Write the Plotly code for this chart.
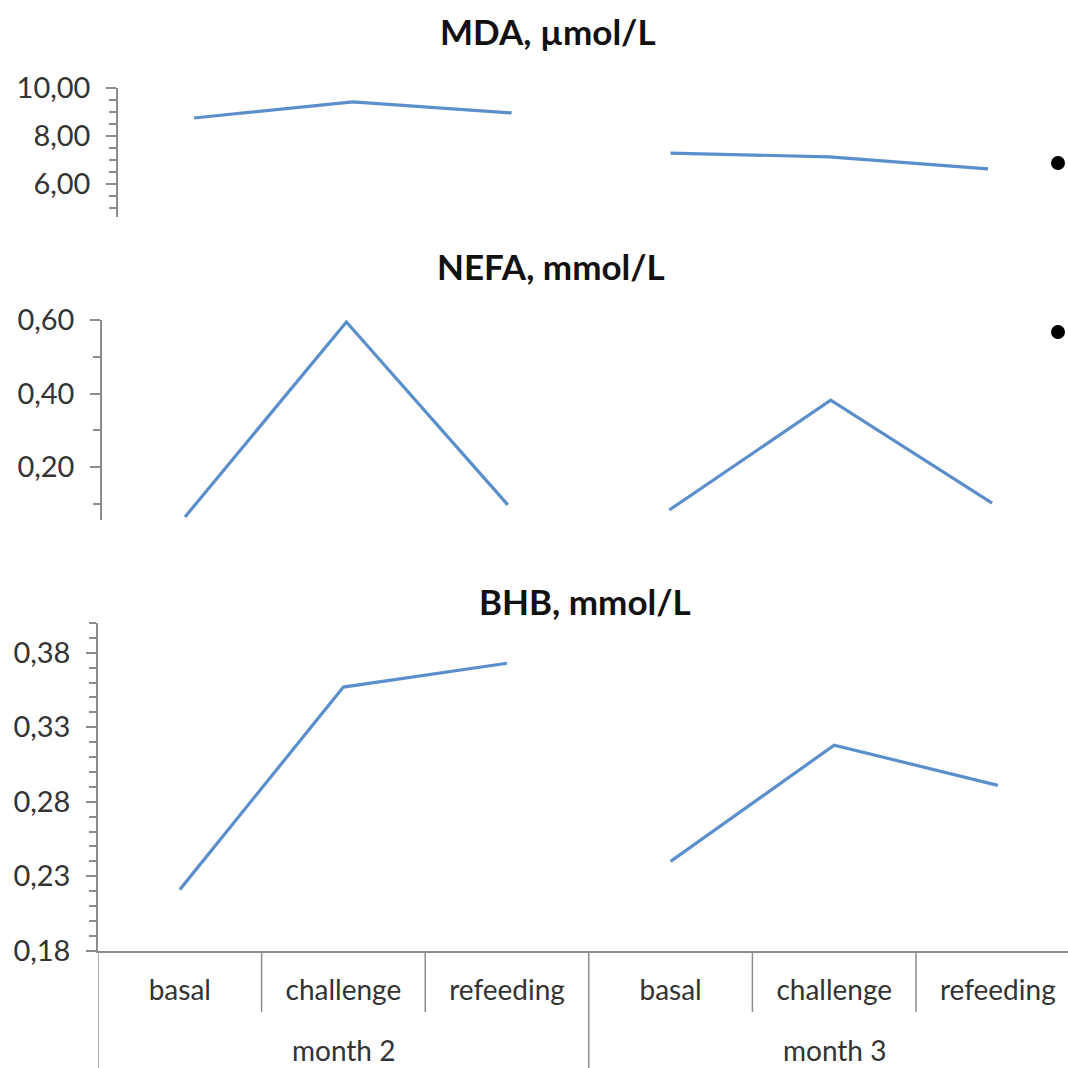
import plotly.graph_objects as go

# ---- data ----
categories = ["basal", "challenge", "refeeding"]
months = ["month 2", "month 3"]

mda_m2 = [8.75, 9.42, 8.96]
mda_m3 = [7.29, 7.13, 6.63]
nefa_m2 = [0.064, 0.595, 0.097]
nefa_m3 = [0.083, 0.382, 0.102]
bhb_m2 = [0.221, 0.357, 0.373]
bhb_m3 = [0.240, 0.318, 0.291]

titles = ["MDA, µmol/L", "NEFA, mmol/L", "BHB, mmol/L"]

# ---- style ----
W = H = 1068
LINE = "#5B8FCB"
AX = "#8C8C8C"
TXT = "#333333"
FONT = "Lato"

x_m2 = [1, 2, 3]
x_m3 = [4, 5, 6]
tick_labels = categories * len(months)

fig = go.Figure()
panels = [(mda_m2, mda_m3, "x", "y"),
          (nefa_m2, nefa_m3, "x2", "y2"),
          (bhb_m2, bhb_m3, "x3", "y3")]
for m2, m3, xa, ya in panels:
    for xs, ys in ((x_m2, m2), (x_m3, m3)):
        fig.add_trace(go.Scatter(x=xs, y=ys, mode="lines", xaxis=xa, yaxis=ya,
                                 line=dict(color=LINE, width=3.2), hoverinfo="skip"))

def py(p):  # pixel row -> paper y
    return 1 - p / H

def px(p):
    return p / W

def yax(dom, rng, tick0, dtick, mtick0, mdtick, anchor):
    return dict(domain=dom, range=rng, anchor=anchor, showgrid=False, zeroline=False,
                automargin=False,
                showline=True, linecolor=AX, linewidth=1.5,
                ticks="outside", ticklen=10, tickwidth=1.5, tickcolor=AX,
                tickmode="linear", tick0=tick0, dtick=dtick, tickformat=".2f",
                tickfont=dict(family=FONT, size=29, color=TXT), ticklabelstandoff=10,
                minor=dict(ticks="outside", ticklen=7, tickwidth=1.5, tickcolor=AX,
                           tick0=mtick0, dtick=mdtick, showgrid=False))

def yover(base, rng, tick0, dtick, anchor):
    return dict(overlaying=base, range=rng, anchor=anchor, showgrid=False, zeroline=False,
                automargin=False,
                showline=False, ticks="inside", ticklen=10, tickwidth=1.5, tickcolor=AX,
                tickmode="linear", tick0=tick0, dtick=dtick, showticklabels=False, side="left")

r1 = [4.625, 10.0]
r2 = [0.0558, 0.6005]
r3 = [0.1798, 0.4]

fig.update_layout(
    width=W, height=H, margin=dict(l=0, r=0, t=0, b=0, pad=0, autoexpand=False),
    paper_bgcolor="white", plot_bgcolor="rgba(0,0,0,0)", showlegend=False,
    separators=",.", font=dict(family=FONT, color=TXT),
    xaxis=dict(domain=[px(118), 1], range=[0.521, 6.504], visible=False, anchor="y",
               automargin=False),
    xaxis2=dict(domain=[px(102), 1], range=[0.486, 6.47], visible=False, anchor="y2",
                automargin=False),
    xaxis3=dict(domain=[px(98), 1], range=[0.5, 6.429], anchor="y3", automargin=False,
                showline=True, linecolor=AX, linewidth=1.5, showgrid=False, zeroline=False,
                tickmode="array", tickvals=x_m2 + x_m3, ticktext=tick_labels, ticks="",
                tickfont=dict(family=FONT, size=28, color=TXT), ticklabelstandoff=14),
    yaxis=yax([py(217), py(88)], r1, 6, 2, 0, 0.5, "x"),
    yaxis2=yax([py(520), py(320)], r2, 0.2, 0.2, 0.0, 0.1, "x2"),
    yaxis3=yax([py(951), py(623)], r3, 0.18, 0.05, 0.18, 0.01, "x3"),
    yaxis4=yover("y", r1, 6, 2, "x"),
    yaxis5=yover("y2", r2, 0.2, 0.2, "x2"),
    yaxis6=yover("y3", r3, 0.18, 0.05, "x3"),
)

# titles
for t, (cx, cy) in zip(titles, [(548, 31), (551, 266), (585, 601)]):
    fig.add_annotation(text="<b>%s</b>" % t, x=px(cx), y=py(cy), xref="paper", yref="paper",
                       showarrow=False, xanchor="center", yanchor="middle",
                       font=dict(family=FONT, size=35, color="#111111"))

# month group labels
for i, m in enumerate(months):
    fig.add_annotation(text=m, x=2 + 3 * i, y=py(1050), xref="x3", yref="paper",
                       showarrow=False, xanchor="center", yanchor="middle",
                       font=dict(family=FONT, size=28, color=TXT))

# category table dividers
for xv in [0.5, 3.5, 6.5]:
    fig.add_shape(type="line", xref="x3", yref="paper", x0=xv, x1=xv, y0=0, y1=py(951),
                  line=dict(color=AX, width=1.5))
for xv in [1.5, 2.5, 4.5, 5.5]:
    fig.add_shape(type="line", xref="x3", yref="paper", x0=xv, x1=xv, y0=py(1012), y1=py(951),
                  line=dict(color=AX, width=1.5))

# bullets at right edge
for cy in [163, 332]:
    fig.add_shape(type="circle", xref="paper", yref="paper",
                  x0=px(1051), x1=px(1065), y0=py(cy + 7), y1=py(cy - 7),
                  fillcolor="black", line=dict(color="black", width=0))

fig.write_html("out.html", config={"displayModeBar": False},
               post_script="document.body.style.margin='0';document.documentElement.style.overflow='hidden';")
